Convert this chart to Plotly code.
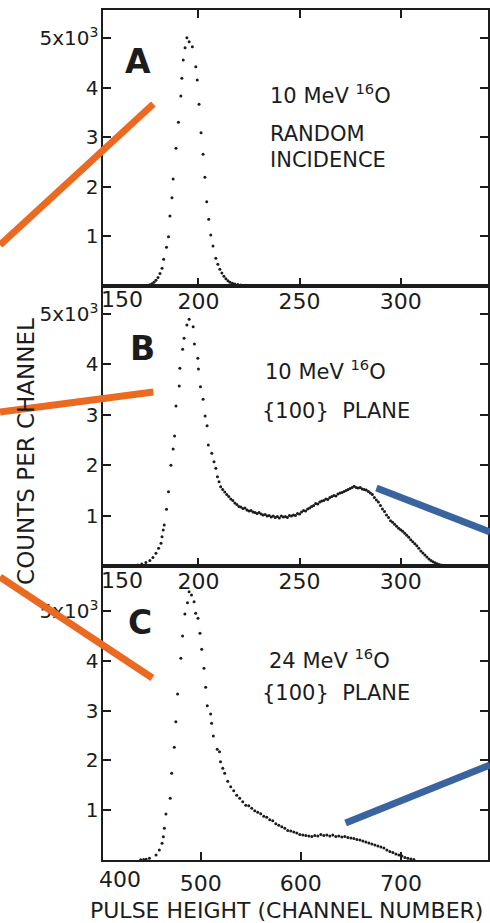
import plotly.graph_objects as go

W, H = 490, 923

# ---------------- data ----------------
# Panel A: 10 MeV 16O, random incidence
ch_a = [174, 175, 176, 177, 178, 179, 180, 181, 182, 182.8, 184.2, 185.2, 185.9, 186.9,
        187.5, 188.9, 190.1, 191.3, 191.8, 192.5, 193.4, 194.3, 195.4, 197.0, 198.7,
        199.4, 200.3, 201.3, 202.3, 203.2, 204.1, 205.1, 206.1, 207.2, 208.6, 209.6,
        210.6, 211.6, 212.6, 213.6, 214.6, 215.6, 216.8, 218, 219.5, 221, 223, 225,
        228, 232, 236, 240, 245]
counts_a = [5, 12, 25, 45, 75, 115, 170, 250, 360, 538, 780, 994, 1411, 1780,
            2157, 2776, 3300, 3831, 4188, 4556, 4804, 5006, 4925, 4825, 4421,
            4153, 3663, 3091, 2655, 2192, 1700, 1345, 1028, 806, 558, 440,
            340, 260, 195, 145, 105, 78, 55, 40, 28, 20, 13, 9,
            6, 4, 3, 2, 1]

# Panel B: 10 MeV 16O, {100} plane
ch_b = [168, 170, 172, 174, 176, 177.5, 179, 180.3, 181.5, 182, 182.6, 183.1, 184.2,
        185.2, 186.4, 187.5, 188.2, 188.9, 190.5, 190.8, 192.2, 192.9, 194.3, 195.4,
        197.4, 198.0, 199.7, 200.0, 201.0, 202.3, 203.3, 204.3, 204.9, 206.6, 207.7,
        208.6, 209.4, 210.2,
        211, 212, 213, 214, 215, 216, 217, 218, 219, 220, 221, 222, 223, 224, 225,
        226, 227, 228, 229, 230, 231, 232, 233, 234, 235, 236, 237, 238, 239, 240,
        241, 242, 243, 244, 245, 246, 247, 248, 249, 250, 251, 252, 253, 254, 255,
        256, 257, 258, 259, 260, 261, 262, 263, 264, 265, 266, 267, 268, 269, 270,
        271, 272, 273, 274, 275, 276, 277, 278, 279, 280, 281, 282, 283, 284, 285,
        286, 287, 288, 289, 290, 291, 292, 293, 294, 295, 296, 297, 298, 299, 300,
        301, 302, 303, 304, 305, 306, 307, 308, 309, 310, 311, 312, 313, 314, 315,
        316, 317, 318, 319, 320, 321, 322]
counts_b = [8, 20, 40, 70, 110, 170, 252, 351, 450, 582, 714, 813, 1125,
            1474, 1998, 2321, 2579, 3175, 3571, 3923, 4299, 4518, 4782, 4895,
            4748, 4405, 4121, 3909, 3558, 3307, 2976, 2784, 2401, 2236, 2069,
            1938, 1772, 1673,
            1574, 1520, 1470, 1420, 1380, 1330, 1300, 1250, 1220, 1180, 1170, 1140, 1150, 1110, 1090,
            1100, 1070, 1060, 1040, 1060, 1030, 1010, 1020, 990, 1000, 970, 990, 960, 980, 950,
            990, 970, 980, 960, 1000, 990, 1010, 1000, 1040, 1030, 1070, 1100, 1090, 1130, 1150,
            1180, 1200, 1240, 1230, 1270, 1290, 1300, 1330, 1320, 1360, 1380, 1400, 1390, 1430, 1450,
            1460, 1480, 1500, 1520, 1540, 1560, 1580, 1560, 1550, 1560, 1530, 1520, 1510, 1480, 1450,
            1420, 1360, 1310, 1270, 1200, 1130, 1080, 1010, 960, 900, 870, 830, 790, 750, 720,
            690, 650, 610, 570, 520, 480, 440, 400, 350, 300, 260, 220, 180, 140, 110,
            85, 65, 45, 30, 20, 10, 5]

# Panel C: 24 MeV 16O, {100} plane
ch_c = [440, 443, 445.5, 448.8, 455.4, 458.7, 461.4, 462.7, 463.7, 465.3, 469.6, 471.0,
        473.6, 475.2, 476.9, 480.2, 481.9, 484.2, 486.8, 488.4, 490.8, 493.4, 495.0,
        497.3, 499.3, 501.0, 503.3, 505.0, 506.6, 509.9, 510.9, 512.6, 516.5, 518.8,
        519.8, 522.1, 524,
        527, 530, 533, 536, 539, 542, 545, 548, 551, 554, 557, 560, 563, 566, 569,
        572, 575, 578, 581, 584, 587, 590, 593, 596, 599, 602, 605, 608, 611, 614,
        617, 620, 623, 626, 629, 632, 635, 638, 641, 644, 647, 650, 653, 656, 659,
        662, 665, 668, 671, 674, 677, 680, 683, 686, 689, 692, 695, 698, 701, 704,
        707, 710, 713]
counts_c = [5, 10, 14, 34, 100, 201, 335, 468, 637, 924, 1239, 1741,
            2263, 2777, 3333, 4050, 4498, 4940, 5167, 5388, 5321, 5187, 4954,
            4853, 4552, 4231, 3849, 3468, 3098, 2932, 2745, 2490, 2223, 2175,
            1974, 1841, 1740,
            1580, 1470, 1390, 1300, 1240, 1170, 1100, 1090, 1040, 990, 960, 930, 880, 860, 810,
            790, 730, 700, 670, 640, 590, 580, 560, 540, 510, 500, 490, 480, 470, 490,
            480, 510, 490, 500, 480, 500, 470, 480, 460, 470, 450, 440, 430, 410, 400,
            380, 360, 340, 320, 300, 280, 260, 240, 200, 170, 150, 120, 100, 80, 50,
            35, 20, 10]

ytick_vals = [1000, 2000, 3000, 4000, 5000]
ytick_text = ["1", "2", "3", "4", "5x10<sup>3</sup>"]
xtick_ab = [200, 250, 300]
xtick_c = [500, 600, 700]

# ---------------- layout helpers ----------------
def px(x):
    return x / W

def py(y):
    return 1 - y / H

INK = "#1c1c1c"
FONT = "DejaVu Sans"

fig = go.Figure()
dot = dict(color=INK, size=3)
fig.add_trace(go.Scatter(x=ch_a, y=counts_a, mode="markers", marker=dot, xaxis="x", yaxis="y", showlegend=False))
fig.add_trace(go.Scatter(x=ch_b, y=counts_b, mode="markers", marker=dot, xaxis="x2", yaxis="y2", showlegend=False))
fig.add_trace(go.Scatter(x=ch_c, y=counts_c, mode="markers", marker=dot, xaxis="x3", yaxis="y3", showlegend=False))

def xax(anchor, rng, vals, mirror, standoff):
    return dict(anchor=anchor, domain=[px(103), 1.0], range=rng, tickvals=vals,
                ticktext=[str(v) for v in vals], showline=True, linewidth=2.2,
                linecolor=INK, mirror=mirror, ticks="inside", ticklen=8, tickwidth=2,
                tickcolor=INK, showgrid=False, zeroline=False,
                ticklabelstandoff=standoff,
                tickfont=dict(family=FONT, size=22, color=INK))

def yax(anchor, dom, top):
    return dict(anchor=anchor, domain=dom, range=[0, top], tickvals=ytick_vals,
                ticktext=ytick_text, showline=True, linewidth=2.2, linecolor=INK,
                mirror="ticks", ticks="inside", ticklen=8, tickwidth=2, tickcolor=INK,
                showgrid=False, zeroline=False, ticklabelstandoff=-2,
                tickfont=dict(family=FONT, size=20, color=INK))

fig.update_layout(
    width=W, height=H, margin=dict(l=0, r=0, t=0, b=0),
    paper_bgcolor="white", plot_bgcolor="white",
    xaxis=xax("y", [152.6, 343.2], xtick_ab, "ticks", -6),
    xaxis2=xax("y2", [152.6, 343.2], xtick_ab, True, -6),
    xaxis3=xax("y3", [402, 787], xtick_c, True, 2),
    yaxis=yax("x", [py(286), py(10)], 5565),
    yaxis2=yax("x2", [py(566), py(286)], 5556),
    yaxis3=yax("x3", [py(860), py(566)], 5904),
)

ann = []
def text(x, y, s, size=21, bold=False, xanchor="left", angle=0):
    ann.append(dict(x=px(x), y=py(y), xref="paper", yref="paper", text=s, showarrow=False,
                    xanchor=xanchor, yanchor="middle", textangle=angle,
                    font=dict(family=FONT, size=size, color=INK,
                              weight="bold" if bold else "normal")))

# extra first tick labels
text(122, 299, "150", size=22, xanchor="center")
text(123, 580, "150", size=22, xanchor="center")
text(120, 879, "400", size=22, xanchor="center")

# panel letters
text(139, 62, "A", size=33, bold=True, xanchor="center")
text(143, 349, "B", size=33, bold=True, xanchor="center")
text(141, 622, "C", size=33, bold=True, xanchor="center")

# panel descriptions
text(269, 94, "10 MeV <sup>16</sup>O")
text(269, 134, "RANDOM")
text(269, 160, "INCIDENCE")
text(264, 370, "10 MeV <sup>16</sup>O")
text(261, 411, "{100}  PLANE")
text(268, 659, "24 MeV <sup>16</sup>O")
text(261, 693, "{100}  PLANE")

# axis titles
text(288, 910, "PULSE HEIGHT (CHANNEL NUMBER)", size=22, xanchor="center")
text(26, 451, "COUNTS PER CHANNEL", size=23, xanchor="center", angle=-90)

fig.update_layout(annotations=ann)

# overlaid pointer strokes (paper pixels)
ORANGE = "#EA6A21"
BLUE = "#3A64A0"
strokes = [
    ((0, 245), (154, 104), ORANGE),
    ((0, 412), (154, 392), ORANGE),
    ((0, 577), (153, 678), ORANGE),
    ((378, 488), (492, 532), BLUE),
    ((347, 823), (492, 765), BLUE),
]
for (x0, y0), (x1, y1), c in strokes:
    fig.add_shape(type="line", xref="paper", yref="paper", x0=px(x0), y0=py(y0),
                  x1=px(x1), y1=py(y1), line=dict(color=c, width=7), layer="above")

fig.write_html("out.html")
